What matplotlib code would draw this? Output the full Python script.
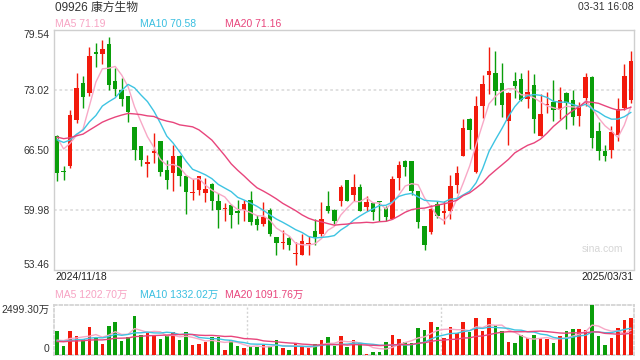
import matplotlib
matplotlib.use('Agg')
import matplotlib.pyplot as plt
import numpy as np
import pandas as pd

plt.rcParams['font.family'] = ['Liberation Sans', 'Noto Sans CJK SC', 'DejaVu Sans']

# ---- data ----
stock_title = "09926 康方生物"
timestamp = "03-31 16:08"
start_label = "2024/11/18"
end_label = "2025/03/31"

opens = [68.02, 64.10, 64.69, 69.69, 73.74, 72.73, 77.05, 76.93, 78.02, 74.00,
         73.02, 72.30, 68.93, 66.86, 65.00, 66.20, 67.48, 64.33, 63.96, 65.85,
         63.67, 61.83, 62.15, 61.79, 62.81, 60.89, 60.02, 60.52, 59.72, 59.98,
         61.07, 59.00, 58.46, 59.98, 57.01, 56.33, 56.90, 55.17, 55.09, 56.22,
         57.70, 57.37, 60.41, 59.98, 60.89, 63.24, 61.61, 62.44, 60.23, 60.70,
         60.84, 60.16, 58.97, 63.42, 65.30, 65.23, 62.04, 58.17, 57.52, 60.63,
         59.66, 59.80, 62.70, 65.85, 69.83, 64.04, 71.28, 74.65, 74.83, 73.74,
         69.58, 74.00, 74.22, 72.01, 73.56, 68.02, 71.36, 71.75, 70.85, 72.73,
         71.93, 70.19, 72.11, 74.47, 68.49, 66.32, 66.43, 68.13, 71.10, 71.93]
highs = [68.10, 64.69, 70.85, 74.83, 74.54, 77.66, 78.09, 78.45, 78.82, 75.45,
         74.29, 72.40, 68.95, 66.90, 65.96, 68.31, 67.50, 65.41, 67.04, 65.90,
         63.70, 63.35, 63.65, 63.42, 62.85, 61.79, 60.70, 60.55, 61.07, 61.07,
         61.97, 59.44, 60.81, 60.16, 57.05, 57.81, 57.16, 56.43, 57.37, 57.16,
         58.97, 60.81, 61.97, 60.00, 62.70, 63.26, 63.89, 62.81, 61.43, 60.72,
         60.88, 60.41, 63.67, 65.23, 65.41, 65.25, 62.06, 58.19, 60.52, 60.90,
         60.89, 63.78, 64.76, 69.83, 69.94, 72.30, 74.65, 77.73, 77.29, 75.99,
         72.80, 75.01, 74.83, 75.19, 74.76, 72.59, 72.84, 74.11, 73.38, 72.84,
         73.02, 71.75, 74.90, 74.49, 69.47, 67.04, 69.04, 72.11, 75.81, 77.29]
lows = [63.06, 63.17, 64.50, 69.40, 71.03, 72.30, 75.48, 75.81, 73.02, 72.37,
        71.21, 69.47, 65.41, 64.76, 63.49, 65.05, 63.60, 62.23, 62.05, 62.59,
        59.55, 61.07, 61.60, 60.78, 59.98, 57.99, 58.71, 57.99, 58.46, 58.71,
        58.35, 57.81, 58.17, 57.08, 55.09, 55.71, 55.63, 54.00, 55.05, 55.09,
        56.18, 57.16, 59.62, 58.42, 60.34, 60.87, 60.89, 59.78, 59.80, 58.89,
        58.78, 58.71, 58.95, 62.15, 63.67, 61.61, 57.95, 55.63, 57.37, 59.08,
        58.42, 58.97, 61.79, 65.83, 66.57, 64.02, 69.94, 72.59, 71.39, 70.12,
        67.04, 72.11, 71.86, 71.03, 68.31, 68.00, 70.48, 69.58, 69.83, 68.78,
        69.22, 69.04, 71.21, 66.68, 65.34, 65.23, 65.59, 67.48, 70.85, 71.64]
closes = [63.97, 64.05, 70.30, 73.20, 72.19, 76.71, 76.98, 77.48, 73.56, 73.13,
          72.04, 70.59, 66.50, 65.41, 65.08, 66.28, 64.04, 63.24, 65.85, 63.60,
          61.86, 61.90, 63.60, 62.26, 60.89, 59.98, 60.08, 59.37, 59.66, 60.63,
          58.60, 58.35, 59.18, 57.37, 56.36, 56.39, 56.18, 55.22, 56.61, 56.28,
          57.01, 58.97, 59.80, 58.71, 62.44, 60.89, 62.44, 59.80, 60.78, 59.69,
          60.78, 59.18, 63.31, 64.87, 64.62, 62.04, 58.60, 56.10, 60.09, 59.33,
          59.72, 62.52, 63.96, 68.85, 68.60, 71.28, 73.67, 75.12, 72.91, 71.39,
          72.66, 73.49, 71.93, 72.84, 69.83, 70.41, 71.42, 70.85, 71.93, 71.57,
          70.05, 71.21, 74.47, 67.77, 66.32, 65.78, 68.38, 70.92, 74.54, 76.17]
# closes before the visible window (estimated so the MAs start where they do)
prior_closes = [67.5, 68.2, 69.0, 68.6, 67.9, 68.4, 68.8, 67.6, 67.9, 67.8,
                67.0, 67.6, 66.9, 67.8, 67.6, 70.1, 67.2, 68.8, 68.9]

# volume in 万
volumes = [1166, 417, 1166, 900, 750, 1350, 816, 516, 1400, 1616,
           666, 850, 1949, 950, 1100, 933, 750, 916, 1116, 700,
           1100, 450, 500, 616, 850, 850, 200, 700, 400, 300,
           400, 350, 450, 433, 700, 300, 200, 566, 350, 333,
           533, 700, 850, 400, 900, 350, 700, 550, 20, 100,
           100, 600, 950, 750, 600, 550, 1300, 1200, 1600, 1350,
           833, 1350, 1066, 1600, 1100, 1800, 1150, 1800, 1450, 1150,
           600, 550, 950, 800, 950, 800, 750, 550, 900, 1150,
           1250, 1250, 1200, 2499.30, 900, 450, 800, 1300, 1700, 1800]
prior_volumes = [620, 580, 700, 540, 660, 610, 590, 720, 640, 560,
                 600, 680, 550, 630, 700, 520, 650, 760, 480]

price_ticks = [79.54, 73.02, 66.50, 59.98, 53.46]
vol_max = 2499.30
ma_windows = [5, 10, 20]
ma_price_labels = ["MA5 71.19", "MA10 70.58", "MA20 71.16"]
ma_vol_labels = ["MA5 1202.70万", "MA10 1332.02万", "MA20 1091.76万"]

# ---- styling ----
RED = '#f21a0c'
GREEN = '#0a9e0a'
MA_COLORS = ['#f8a8c6', '#3ec4e2', '#e8457c']
MA_TEXT = ['#f7a3c3', '#39bfe0', '#e8457c']
W, H = 640, 360

fig = plt.figure(figsize=(6.4, 3.6), dpi=100)
ax = fig.add_axes([54 / W, 90.5 / H, 580 / W, 239.5 / H])
axv = fig.add_axes([54 / W, 5.5 / H, 580 / W, 50 / H])

n = len(closes)
x = np.arange(n)
o = np.array(opens); c = np.array(closes)
hi = np.array(highs); lo = np.array(lows)
up = c >= o
colors = np.where(up, RED, GREEN)

# candles
ax.vlines(x, lo, hi, colors=colors, linewidth=1.0, zorder=3)
body_bottom = np.minimum(o, c)
body_h = np.maximum(np.abs(c - o), 0.12)
ax.bar(x, body_h, bottom=body_bottom, width=0.68, color=colors, linewidth=0, zorder=4)

# moving averages
all_c = pd.Series(prior_closes + closes)
for win, col in zip(ma_windows, MA_COLORS):
    ma = all_c.rolling(win).mean().iloc[len(prior_closes):].to_numpy()
    ax.plot(x, ma, color=col, linewidth=1.0, zorder=5)

ax.set_xlim(-0.5, n - 0.5)
ax.set_ylim(price_ticks[-1], price_ticks[0])
for t in price_ticks[1:-1]:
    ax.axhline(t, color='#dedede', linewidth=1.3, linestyle=(0, (1.5, 1.5)), zorder=1)
ax.set_yticks(price_ticks)
ax.set_yticklabels([f"{t:.2f}" for t in price_ticks])
ax.tick_params(axis='y', length=0, pad=3, labelsize=7.5, labelcolor='#333333')
ax.tick_params(axis='x', length=0, labelbottom=False)
ylabels = ax.get_yticklabels()
ylabels[0].set_va('top')
ylabels[-1].set_va('bottom')
for s in ax.spines.values():
    s.set_color('#cfcfcf')
    s.set_linewidth(1.0)

ax.text(0.982, 0.085, 'sina.com', transform=ax.transAxes, ha='right', va='center',
        fontsize=7.5, color='#d6d6d6')

# volume
axv.bar(x, volumes, width=0.55, color=colors, linewidth=0, zorder=3)
all_v = pd.Series(prior_volumes + volumes)
for win, col in zip(ma_windows, MA_COLORS):
    mv = all_v.rolling(win).mean().iloc[len(prior_volumes):].to_numpy()
    axv.plot(x, mv, color=col, linewidth=1.0, zorder=5)
axv.set_xlim(-0.5, n - 0.5)
axv.set_ylim(0, vol_max)
axv.set_yticks([vol_max, 0])
axv.set_yticklabels([f"{vol_max:.2f}万", "0"])
axv.tick_params(axis='y', length=0, pad=3, labelsize=7.5, labelcolor='#333333')
axv.tick_params(axis='x', length=0, labelbottom=False)
vl = axv.get_yticklabels()
vl[0].set_va('top')
vl[1].set_va('bottom')
for s in axv.spines.values():
    s.set_color('#d4d4d4')
    s.set_linewidth(1.3)
    s.set_linestyle((0, (1.5, 1.5)))
for xv in [(n / 3) - 0.5, (2 * n / 3) - 0.5]:
    axv.axvline(xv, color='#d4d4d4', linewidth=1.0, linestyle=(0, (1.5, 1.5)), zorder=1)

# texts
def fy(px):
    return 1 - px / H

fig.text(55 / W, fy(7.5), stock_title, ha='left', va='center', fontsize=8.5, color='#333333')
fig.text(634 / W, fy(7.5), timestamp, ha='right', va='center', fontsize=7.5, color='#333333')
for lab, col, xp in zip(ma_price_labels, MA_TEXT, [55, 140, 225]):
    fig.text(xp / W, fy(24), lab, ha='left', va='center', fontsize=7.5, color=col)
fig.text(55 / W, fy(277), start_label, ha='left', va='center', fontsize=7.5, color='#222222')
fig.text(634 / W, fy(277), end_label, ha='right', va='center', fontsize=7.5, color='#222222')
for lab, col, xp in zip(ma_vol_labels, MA_TEXT, [55, 140, 225]):
    fig.text(xp / W, fy(294.5), lab, ha='left', va='center', fontsize=7.5, color=col)

fig.savefig('out.png', dpi=100)
